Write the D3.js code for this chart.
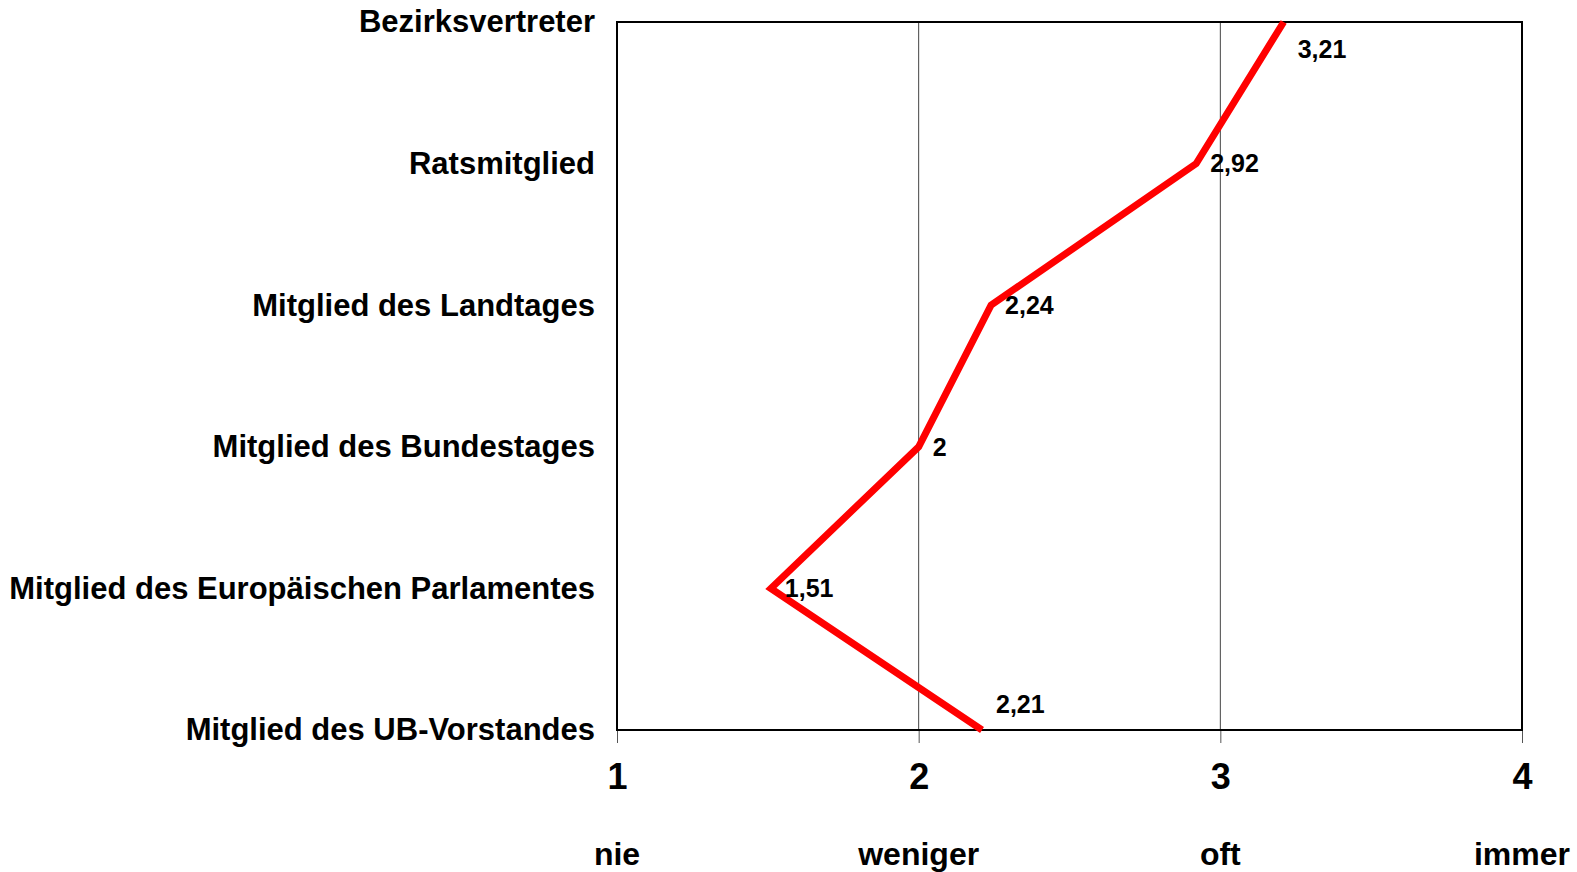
<!DOCTYPE html>
<html>
<head>
<meta charset="utf-8">
<script src="https://cdn.jsdelivr.net/npm/d3@7"></script>
<style>
  html, body { margin: 0; padding: 0; background: #fff; }
  svg { display: block; font-family: "Liberation Sans", Arial, sans-serif; font-weight: bold; }
</style>
</head>
<body>
<div id="chart"></div>
<script>
const categories = [
    'Bezirksvertreter',
    'Ratsmitglied',
    'Mitglied des Landtages',
    'Mitglied des Bundestages',
    'Mitglied des Europäischen Parlamentes',
    'Mitglied des UB-Vorstandes'
]
const values = [3.21, 2.92, 2.24, 2, 1.51, 2.21]
const tickValues = [1, 2, 3, 4]
const tickNames = ['nie', 'weniger', 'oft', 'immer']

const fmt = (v) => String(v).replace('.', ',')

const width = 1577
const height = 872
const margin = { top: 22, right: 55, bottom: 142, left: 617 }
const innerW = width - margin.left - margin.right
const innerH = height - margin.top - margin.bottom

const svg = d3.select('#chart')
    .append('svg')
    .attr('width', width)
    .attr('height', height)

const g = svg.append('g')
    .attr('transform', `translate(${margin.left}, ${margin.top})`)

const x = d3.scaleLinear().domain([1, 4]).range([0, innerW])
const y = d3.scalePoint().domain(categories).range([0, innerH])

// vertical gridlines
g.selectAll('.grid')
    .data(tickValues.slice(1, -1))
    .enter()
    .append('line')
    .attr('class', 'grid')
    .attr('x1', (d) => x(d))
    .attr('x2', (d) => x(d))
    .attr('y1', 0)
    .attr('y2', innerH)
    .attr('stroke', '#444')
    .attr('stroke-width', 1)

// x axis with ticks below the frame
const xAxis = g.append('g')
    .attr('transform', `translate(0, ${innerH})`)
    .call(d3.axisBottom(x).tickValues(tickValues).tickFormat(d3.format('d')).tickSize(13).tickPadding(20))
xAxis.select('.domain').remove()
xAxis.selectAll('.tick line').attr('stroke', '#555')
xAxis.selectAll('.tick text')
    .attr('fill', '#000')
    .style('font-size', '36px')
    .style('font-family', '"Liberation Sans", Arial, sans-serif')
    .style('font-weight', 'bold')

g.selectAll('.level')
    .data(tickValues)
    .enter()
    .append('text')
    .attr('class', 'level')
    .attr('x', (d) => x(d))
    .attr('y', innerH + 135)
    .attr('text-anchor', 'middle')
    .style('font-size', '32px')
    .text((d, i) => tickNames[i])

// y axis labels
const yAxis = g.append('g')
    .call(d3.axisLeft(y).tickSize(0).tickPadding(22))
yAxis.select('.domain').remove()
yAxis.selectAll('.tick text')
    .attr('fill', '#000')
    .style('font-size', '31px')
    .style('font-family', '"Liberation Sans", Arial, sans-serif')
    .style('font-weight', 'bold')

// plot frame
g.append('rect')
    .attr('x', 0)
    .attr('y', 0)
    .attr('width', innerW)
    .attr('height', innerH)
    .attr('fill', 'none')
    .attr('stroke', '#000')
    .attr('stroke-width', 2)

// the line
const line = d3.line()
    .x((d) => x(d))
    .y((d, i) => y(categories[i]))

g.append('path')
    .datum(values)
    .attr('d', line)
    .attr('fill', 'none')
    .attr('stroke', '#ff0000')
    .attr('stroke-width', 7)
    .attr('stroke-linejoin', 'miter')

// value labels
const last = values.length - 1
g.selectAll('.val')
    .data(values)
    .enter()
    .append('text')
    .attr('class', 'val')
    .attr('x', (d) => x(d) + 14)
    .attr('y', (d, i) => y(categories[i]) + (i === 0 ? 27 : i === last ? -26 : 0))
    .attr('dy', '0.35em')
    .style('font-size', '25px')
    .text((d) => fmt(d))
</script>
</body>
</html>
